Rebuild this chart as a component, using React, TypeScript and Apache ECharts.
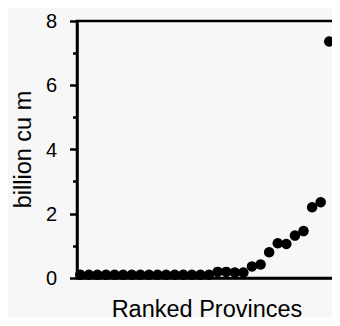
import React, { useEffect, useRef } from "react";
import * as echarts from "echarts";

const provinceRanks: number[] = [
  1, 2, 3, 4, 5, 6, 7, 8, 9, 10, 11, 12, 13, 14, 15,
  16, 17, 18, 19, 20, 21, 22, 23, 24, 25, 26, 27, 28, 29, 30,
];
const volumes: number[] = [
  0.1, 0.1, 0.1, 0.1, 0.1, 0.1, 0.1, 0.1, 0.1, 0.1, 0.1, 0.1, 0.1, 0.1, 0.1,
  0.1, 0.19, 0.19, 0.17, 0.17, 0.36, 0.42, 0.8, 1.08, 1.06, 1.32, 1.46, 2.2,
  2.36, 7.36,
];
const yTicks: number[] = [0, 2, 4, 6, 8];

const FONT = "'Liberation Sans', Arial, Helvetica, sans-serif";

export default function App() {
  const ref = useRef<HTMLDivElement>(null);
  useEffect(() => {
    if (!ref.current) return;
    const chart = echarts.init(ref.current, undefined, { renderer: "svg" });
    chart.setOption({
      animation: false,
      backgroundColor: "#f7f7f7",
      grid: {
        left: 77,
        right: 3,
        top: 21,
        bottom: 44,
        show: true,
        borderColor: "#000",
        borderWidth: 2.5,
        backgroundColor: "transparent",
      },
      xAxis: {
        type: "value",
        min: 0.62,
        max: 30.9,
        name: "Ranked Provinces",
        nameLocation: "middle",
        nameGap: 19,
        nameTextStyle: { fontFamily: FONT, fontSize: 23.5, color: "#000" },
        axisLine: { show: true, lineStyle: { color: "#000", width: 2.5 } },
        axisTick: { show: false },
        axisLabel: { show: false },
        splitLine: { show: false },
      },
      yAxis: {
        type: "value",
        min: yTicks[0],
        max: yTicks[yTicks.length - 1],
        interval: 2,
        name: "billion cu m",
        nameLocation: "middle",
        nameGap: 36,
        nameTextStyle: { fontFamily: FONT, fontSize: 23.5, color: "#000" },
        axisLine: { show: true, lineStyle: { color: "#000", width: 2.5 } },
        axisTick: {
          show: true,
          length: 7,
          inside: false,
          lineStyle: { color: "#000", width: 2.5 },
        },
        minorTick: {
          show: true,
          splitNumber: 2,
          length: 4,
          lineStyle: { color: "#000", width: 2.5 },
        },
        axisLabel: {
          fontFamily: FONT,
          fontSize: 20,
          color: "#000",
          margin: 20,
          formatter: (v: number) => (yTicks.includes(v) ? String(v) : ""),
        },
        splitLine: { show: false },
      },
      series: [
        {
          type: "scatter",
          data: provinceRanks.map((r, i) => [r, volumes[i]]),
          symbol: "circle",
          symbolSize: 10.5,
          itemStyle: { color: "#000", opacity: 1 },
        },
      ],
    });
    return () => chart.dispose();
  }, []);
  return <div ref={ref} style={{ width: 340, height: 326, margin: -8 }} />;
}
